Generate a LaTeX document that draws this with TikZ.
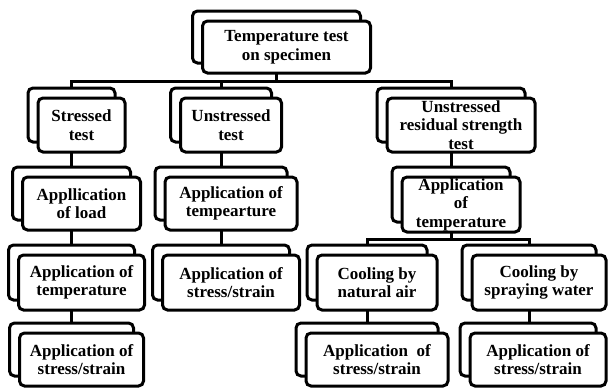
\documentclass[tikz,border=0pt]{standalone}
\usepackage{fontspec}
\setmainfont{Liberation Serif}
\usetikzlibrary{backgrounds}
\tikzset{
  boxback/.style={draw, line width=3pt, rounded corners=5pt, fill=white, inner sep=0pt},
  boxfront/.style={draw, line width=3pt, rounded corners=5pt, fill=white, inner sep=0pt,
    align=center, font=\bfseries\fontsize{17}{18.5}\selectfont},
  conn/.style={line width=3pt}
}
% name, cx, cy, w, h, text
\newcommand\dblbox[6]{%
  \node[boxback, minimum width=#4, minimum height=#5] (#1b) at (#2-10,#3-10) {};
  \node[boxfront, minimum width=#4, minimum height=#5] (#1) at (#2,#3) {#6};
}
\begin{document}
\begin{tikzpicture}[x=1pt,y=-1pt]
\useasboundingbox (0,0) rectangle (608,388);
\dblbox{top}{286.5}{47}{168}{52}{Temperature test\\on specimen}
\dblbox{stressed}{81.5}{125}{87}{54}{Stressed\\test}
\dblbox{unstressed}{231}{125}{101}{54}{Unstressed\\test}
\dblbox{residual}{461}{125}{148}{54}{Unstressed\\residual strength\\test}
\dblbox{load}{81.5}{203.5}{118}{53}{Appllication\\of load}
\dblbox{tempe}{231}{203.5}{132}{53}{Application of\\tempearture}
\dblbox{restemp}{461}{204.5}{118}{55}{Application\\of\\temperature}
\dblbox{temp}{81.5}{282.5}{126}{55}{Application of\\temperature}
\dblbox{sstwo}{231}{282.5}{137}{55}{Application of\\stress/strain}
\dblbox{air}{377}{282.5}{120}{55}{Cooling by\\natural air}
\dblbox{water}{539}{282.5}{134}{55}{Cooling by\\spraying water}
\dblbox{ssone}{81.5}{359.5}{124}{53}{Application of\\stress/strain}
\dblbox{ssthree}{377}{359.5}{142}{53}{Application~ of\\stress/strain}
\dblbox{ssfour}{538}{359.5}{136}{53}{Application of\\stress/strain}
\begin{scope}[on background layer]
  \coordinate (bus1) at (276.5,81);
  \coordinate (bus2) at (451,239);
  \draw[conn] (topb.center) -- (bus1);
  \draw[conn] (stressedb.north) |- (bus1) -| (residualb.north);
  \draw[conn] (unstressedb.north) -- (unstressedb.north |- bus1);
  \draw[conn] (stressedb.center) -- (loadb.north);
  \draw[conn] (loadb.center) -- (tempb.north);
  \draw[conn] (tempb.center) -- (ssoneb.north);
  \draw[conn] (unstressedb.center) -- (tempeb.north);
  \draw[conn] (tempeb.center) -- (sstwob.north);
  \draw[conn] (residualb.center) -- (restempb.north);
  \draw[conn] (restempb.center) -- (bus2);
  \draw[conn] (airb.north) |- (bus2) -| (waterb.north);
  \draw[conn] (airb.center) -- (ssthreeb.north);
  \draw[conn] (waterb.center) -- (waterb.center |- ssfourb.north);
\end{scope}
\end{tikzpicture}
\end{document}
